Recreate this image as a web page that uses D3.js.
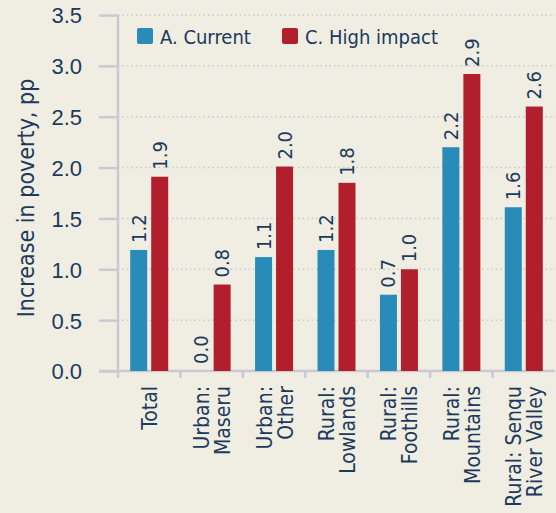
<!DOCTYPE html>
<html>
<head>
<meta charset="utf-8">
<script src="https://cdn.jsdelivr.net/npm/d3@7"></script>
<style>
  body { margin: 0; background: #f0ede2; }
  svg { display: block; font-family: "DejaVu Sans Condensed", "DejaVu Sans", sans-serif; font-stretch: condensed; }
  .tick text { fill: #1b3a5c; }
</style>
</head>
<body>
<div id="chart"></div>
<script>
var categories = [["Total"], ["Urban:", "Maseru"], ["Urban:", "Other"], ["Rural:", "Lowlands"],
  ["Rural:", "Foothills"], ["Rural:", "Mountains"], ["Rural: Senqu", "River Valley"]];
var series_names = ["A. Current", "C. High impact"];
var current = [1.19, 0.0, 1.12, 1.19, 0.75, 2.2, 1.61];
var high_impact = [1.91, 0.85, 2.01, 1.85, 1.0, 2.92, 2.6];
var current_labels = ["1.2", "0.0", "1.1", "1.2", "0.7", "2.2", "1.6"];
var high_labels = ["1.9", "0.8", "2.0", "1.8", "1.0", "2.9", "2.6"];
var y_ticks = [0, 0.5, 1.0, 1.5, 2.0, 2.5, 3.0, 3.5];
var colors = ["#298cb8", "#b01f2b"];
var text_color = "#1b3a5c";
var grid_color = "#c9c9d3";

var W = 556, H = 513;
var margin = { top: 15, right: 1, bottom: 142, left: 118 };
var width = W - margin.left - margin.right,
    height = H - margin.top - margin.bottom;

var svg = d3.select("#chart").append("svg")
  .attr("width", W).attr("height", H);
svg.append("rect").attr("width", W).attr("height", H).attr("fill", "#f0ede2");

var g = svg.append("g")
  .attr("transform", "translate(" + margin.left + "," + margin.top + ")");

var keys = categories.map(function (d, i) { return "c" + i; });

var x = d3.scaleBand().domain(keys).range([0, width]);
var y = d3.scaleLinear().domain([0, 3.5]).range([height, 0]);

// -- grid lines --
g.append("g").selectAll("line").data(y_ticks.slice(1)).enter().append("line")
  .attr("x1", 0).attr("x2", width)
  .attr("y1", function (d) { return y(d); }).attr("y2", function (d) { return y(d); })
  .attr("stroke", grid_color).attr("stroke-width", 1.5)
  .attr("stroke-dasharray", "1.5,3");

// -- y axis --
var y_axis = d3.axisLeft(y).tickValues(y_ticks).tickSize(19).tickPadding(17)
  .tickFormat(d3.format(".1f"));
var ya = g.append("g").call(y_axis);
ya.select(".domain").remove();
ya.selectAll(".tick line").attr("stroke", grid_color).attr("stroke-width", 2.5);
ya.selectAll(".tick text").style("font-size", "22px").attr("dy", "0.36em");
g.append("line").attr("x1", 0).attr("x2", 0).attr("y1", 0).attr("y2", height + 7)
  .attr("stroke", grid_color).attr("stroke-width", 2.5);

// -- x axis --
g.append("line").attr("x1", -19).attr("x2", width).attr("y1", height).attr("y2", height)
  .attr("stroke", grid_color).attr("stroke-width", 2.5);
g.append("g").selectAll("line").data(keys.slice(1)).enter().append("line")
  .attr("x1", function (d) { return x(d); }).attr("x2", function (d) { return x(d); })
  .attr("y1", height).attr("y2", height + 7)
  .attr("stroke", grid_color).attr("stroke-width", 2.5);

var xl = g.append("g").selectAll("text").data(categories).enter().append("text")
  .attr("transform", function (d, i) {
    return "translate(" + (x(keys[i]) + x.bandwidth() / 2) + "," + (height + 15) + ") rotate(-90)";
  })
  .attr("text-anchor", "end")
  .attr("fill", text_color)
  .style("font-size", "21px");
xl.selectAll("tspan").data(function (d) {
    return d.map(function (t, j) { return { t: t, j: j, n: d.length }; });
  }).enter().append("tspan")
  .attr("x", 0)
  .attr("y", function (d) { return (d.j - (d.n - 1) / 2) * 21 + 8; })
  .text(function (d) { return d.t; });

// y title
svg.append("text")
  .attr("transform", "translate(34,198) rotate(-90)")
  .attr("text-anchor", "middle")
  .attr("fill", text_color)
  .style("font-size", "23px")
  .text("Increase in poverty, pp");

// == bars ==
var bw = 17, gap = 4;
var groups = g.selectAll(".grp").data(keys).enter().append("g")
  .attr("transform", function (d) { return "translate(" + (x(d) + x.bandwidth() / 2) + ",0)"; });

[current, high_impact].forEach(function (vals, s) {
  var labels = s === 0 ? current_labels : high_labels;
  var off = s === 0 ? -(bw + gap / 2) : gap / 2;
  groups.append("rect")
    .attr("x", off)
    .attr("y", function (d, i) { return y(vals[i]); })
    .attr("width", bw)
    .attr("height", function (d, i) { return height - y(vals[i]); })
    .attr("fill", colors[s]);
  groups.append("text")
    .attr("transform", function (d, i) {
      return "translate(" + (off + bw / 2 + 7) + "," + (y(vals[i]) - 7) + ") rotate(-90)";
    })
    .attr("fill", text_color)
    .style("font-size", "20px")
    .text(function (d, i) { return labels[i]; });
});

// == legend ==
var legend = g.selectAll(".lg").data(series_names).enter().append("g")
  .attr("transform", function (d, i) { return "translate(" + (19 + i * 145) + ",13)"; });
legend.append("rect").attr("width", 16).attr("height", 16).attr("rx", 2)
  .attr("fill", function (d, i) { return colors[i]; });
legend.append("text").attr("x", 23).attr("y", 16)
  .attr("fill", text_color).style("font-size", "20px")
  .text(function (d) { return d; });
</script>
</body>
</html>
